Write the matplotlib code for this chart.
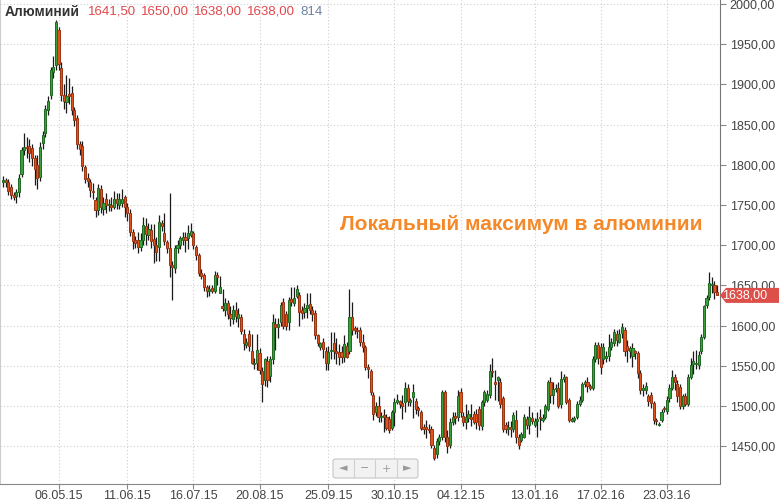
import numpy as np
import pandas as pd
import matplotlib
matplotlib.use("Agg")
import matplotlib.pyplot as plt
from matplotlib.patches import Polygon, FancyBboxPatch

# Daily OHLC for aluminium, one value per trading day
opens = [
    1779, 1781, 1779, 1772, 1763, 1761, 1766, 1788, 1818, 1822, 1824, 1821, 1808, 1800, 1785, 1827, 1840, 1868, 1887, 1915,
    1924, 1968, 1920, 1887, 1878, 1888, 1889, 1868, 1858, 1826, 1824, 1797, 1784, 1779, 1768, 1756, 1744, 1770, 1745, 1758,
    1750, 1750, 1748, 1758, 1750, 1752, 1760, 1748, 1740, 1717, 1706, 1706, 1698, 1707, 1724, 1713, 1719, 1708, 1700, 1698,
    1728, 1715, 1704, 1697, 1676, 1672, 1697, 1700, 1707, 1710, 1709, 1713, 1715, 1698, 1688, 1666, 1663, 1648, 1643, 1647,
    1643, 1663, 1641, 1625, 1620, 1628, 1615, 1608, 1620, 1610, 1611, 1590, 1576, 1590, 1568, 1552, 1554, 1566, 1543, 1533,
    1556, 1537, 1558, 1602, 1598, 1605, 1630, 1615, 1605, 1633, 1628, 1637, 1638, 1620, 1617, 1622, 1627, 1620, 1616, 1588,
    1574, 1580, 1568, 1554, 1568, 1579, 1568, 1567, 1567, 1561, 1575, 1568, 1611, 1597, 1595, 1595, 1580, 1573, 1549, 1543,
    1514, 1492, 1500, 1486, 1489, 1486, 1484, 1473, 1492, 1505, 1506, 1504, 1505, 1523, 1505, 1511, 1506, 1497, 1492, 1474,
    1474, 1472, 1471, 1448, 1440, 1456, 1461, 1517, 1461, 1452, 1480, 1488, 1486, 1517, 1488, 1480, 1485, 1487, 1490, 1490,
    1496, 1475, 1505, 1508, 1514, 1544, 1530, 1533, 1530, 1510, 1476, 1471, 1474, 1471, 1483, 1462, 1458, 1462, 1484, 1476,
    1485, 1476, 1481, 1487, 1483, 1486, 1496, 1530, 1514, 1521, 1523, 1502, 1534, 1536, 1508, 1482, 1483, 1486, 1502, 1508,
    1527, 1530, 1525, 1523, 1558, 1576, 1573, 1558, 1560, 1562, 1573, 1579, 1590, 1580, 1591, 1595, 1575, 1568, 1562, 1568,
    1566, 1541, 1520, 1520, 1512, 1514, 1504, 1483, 1476, 1483, 1498, 1494, 1510, 1523, 1536, 1528, 1524, 1500, 1512, 1502,
    1536, 1552, 1552, 1551, 1568, 1586, 1626, 1636, 1650, 1650, 1641.5,
]
highs = [
    1786, 1784, 1782, 1776, 1766, 1770, 1788, 1822, 1840, 1834, 1832, 1826, 1812, 1812, 1828, 1842, 1874, 1885, 1922, 1935,
    1980, 1972, 1928, 1900, 1912, 1908, 1898, 1872, 1862, 1830, 1830, 1800, 1790, 1783, 1778, 1760, 1776, 1775, 1760, 1765,
    1758, 1760, 1768, 1765, 1765, 1770, 1763, 1752, 1745, 1720, 1712, 1716, 1715, 1735, 1734, 1728, 1726, 1726, 1710, 1737,
    1732, 1740, 1706, 1765, 1680, 1700, 1706, 1712, 1716, 1716, 1725, 1728, 1718, 1700, 1690, 1670, 1666, 1650, 1650, 1650,
    1668, 1667, 1662, 1645, 1635, 1632, 1625, 1626, 1630, 1622, 1615, 1596, 1585, 1595, 1590, 1560, 1590, 1572, 1548, 1560,
    1562, 1562, 1614, 1610, 1610, 1630, 1634, 1618, 1636, 1648, 1648, 1650, 1642, 1625, 1628, 1640, 1640, 1624, 1620, 1590,
    1580, 1585, 1574, 1575, 1592, 1592, 1585, 1577, 1575, 1588, 1580, 1646, 1630, 1600, 1598, 1598, 1590, 1576, 1552, 1546,
    1517, 1505, 1512, 1492, 1496, 1490, 1488, 1495, 1510, 1515, 1508, 1514, 1530, 1528, 1510, 1528, 1510, 1500, 1495, 1478,
    1483, 1478, 1475, 1452, 1460, 1465, 1520, 1520, 1470, 1485, 1492, 1492, 1520, 1522, 1492, 1502, 1495, 1502, 1494, 1496,
    1500, 1508, 1520, 1520, 1552, 1560, 1545, 1538, 1535, 1512, 1480, 1482, 1482, 1492, 1495, 1465, 1468, 1490, 1488, 1500,
    1492, 1485, 1492, 1496, 1490, 1502, 1533, 1536, 1530, 1527, 1530, 1544, 1540, 1538, 1510, 1487, 1488, 1506, 1512, 1530,
    1533, 1536, 1528, 1562, 1580, 1580, 1578, 1578, 1568, 1590, 1585, 1596, 1594, 1596, 1603, 1598, 1582, 1575, 1578, 1570,
    1568, 1545, 1528, 1530, 1515, 1518, 1506, 1485, 1480, 1496, 1500, 1512, 1528, 1545, 1540, 1532, 1528, 1515, 1516, 1540,
    1560, 1568, 1570, 1568, 1590, 1626, 1638, 1667, 1660, 1656, 1650,
]
lows = [
    1773, 1772, 1762, 1758, 1756, 1752, 1760, 1785, 1812, 1808, 1804, 1798, 1775, 1770, 1780, 1820, 1835, 1862, 1882, 1908,
    1918, 1918, 1880, 1870, 1865, 1876, 1862, 1848, 1820, 1812, 1792, 1778, 1772, 1760, 1758, 1735, 1738, 1740, 1738, 1740,
    1742, 1742, 1745, 1745, 1745, 1748, 1735, 1730, 1712, 1695, 1697, 1690, 1693, 1700, 1700, 1706, 1696, 1678, 1680, 1680,
    1718, 1700, 1690, 1660, 1632, 1665, 1690, 1695, 1700, 1692, 1695, 1710, 1695, 1682, 1662, 1658, 1643, 1636, 1637, 1640,
    1640, 1650, 1640, 1618, 1612, 1608, 1600, 1602, 1605, 1598, 1590, 1570, 1572, 1568, 1552, 1546, 1545, 1540, 1505, 1525,
    1524, 1530, 1552, 1570, 1585, 1600, 1596, 1594, 1594, 1625, 1625, 1635, 1600, 1608, 1610, 1610, 1614, 1606, 1583, 1575,
    1570, 1560, 1545, 1545, 1558, 1558, 1552, 1551, 1553, 1555, 1560, 1565, 1588, 1590, 1585, 1575, 1567, 1545, 1535, 1514,
    1483, 1488, 1480, 1480, 1468, 1470, 1466, 1470, 1475, 1502, 1498, 1484, 1493, 1500, 1500, 1485, 1490, 1488, 1470, 1465,
    1460, 1466, 1448, 1433, 1436, 1452, 1458, 1455, 1442, 1448, 1476, 1478, 1482, 1486, 1475, 1472, 1480, 1475, 1478, 1472,
    1470, 1470, 1500, 1505, 1510, 1536, 1507, 1506, 1498, 1468, 1466, 1464, 1462, 1468, 1454, 1446, 1455, 1460, 1472, 1465,
    1478, 1474, 1462, 1470, 1480, 1484, 1494, 1504, 1503, 1518, 1498, 1498, 1530, 1502, 1480, 1480, 1480, 1484, 1500, 1505,
    1524, 1518, 1520, 1520, 1555, 1552, 1540, 1552, 1555, 1556, 1570, 1575, 1575, 1578, 1585, 1562, 1555, 1560, 1548, 1558,
    1535, 1515, 1512, 1515, 1500, 1498, 1478, 1477, 1475, 1480, 1492, 1490, 1505, 1520, 1520, 1505, 1496, 1496, 1500, 1500,
    1534, 1540, 1546, 1546, 1565, 1584, 1622, 1632, 1640, 1633, 1638,
]
closes = [
    1781, 1779, 1767, 1762, 1760, 1766, 1784, 1818, 1822, 1821, 1815, 1808, 1795, 1784, 1822, 1837, 1870, 1880, 1918, 1922,
    1978, 1925, 1887, 1880, 1886, 1885, 1868, 1856, 1826, 1820, 1798, 1783, 1780, 1769, 1766, 1744, 1771, 1748, 1752, 1750,
    1751, 1748, 1758, 1752, 1757, 1758, 1748, 1740, 1717, 1705, 1703, 1698, 1706, 1725, 1714, 1720, 1705, 1700, 1692, 1729,
    1724, 1705, 1697, 1676, 1673, 1697, 1700, 1709, 1710, 1707, 1715, 1718, 1700, 1688, 1666, 1662, 1648, 1643, 1646, 1643,
    1663, 1660, 1648, 1622, 1628, 1615, 1610, 1620, 1612, 1614, 1593, 1578, 1580, 1575, 1554, 1554, 1570, 1545, 1528, 1558,
    1533, 1558, 1605, 1598, 1602, 1626, 1599, 1600, 1632, 1630, 1634, 1645, 1617, 1616, 1622, 1626, 1620, 1614, 1589, 1579,
    1578, 1571, 1554, 1567, 1570, 1568, 1566, 1561, 1561, 1577, 1561, 1611, 1595, 1594, 1593, 1580, 1573, 1549, 1546, 1517,
    1490, 1500, 1486, 1488, 1487, 1473, 1470, 1492, 1505, 1507, 1503, 1500, 1523, 1506, 1507, 1517, 1496, 1495, 1473, 1472,
    1472, 1470, 1452, 1436, 1456, 1461, 1517, 1461, 1450, 1480, 1487, 1485, 1512, 1492, 1480, 1486, 1490, 1484, 1480, 1480,
    1477, 1505, 1517, 1515, 1543, 1542, 1528, 1536, 1502, 1471, 1471, 1474, 1471, 1489, 1461, 1452, 1465, 1487, 1476, 1487,
    1482, 1482, 1484, 1485, 1485, 1500, 1530, 1514, 1521, 1523, 1500, 1534, 1536, 1505, 1483, 1484, 1485, 1502, 1508, 1527,
    1530, 1525, 1523, 1558, 1576, 1560, 1549, 1574, 1562, 1574, 1580, 1592, 1582, 1590, 1598, 1568, 1570, 1572, 1572, 1566,
    1541, 1520, 1522, 1525, 1506, 1504, 1483, 1481, 1478, 1493, 1496, 1507, 1523, 1536, 1530, 1512, 1500, 1512, 1502, 1536,
    1551, 1556, 1554, 1564, 1586, 1624, 1635, 1653, 1652, 1642, 1638,
]

first_day = "2015-04-07"
tick_labels = ["06.05.15", "11.06.15", "16.07.15", "20.08.15", "25.09.15",
               "30.10.15", "04.12.15", "13.01.16", "17.02.16", "23.03.16"]
price_ticks = [1450, 1500, 1550, 1600, 1650, 1700, 1750, 1800, 1850, 1900, 1950, 2000]

header_name = "Алюминий"
header_values = ["1641,50", "1650,00", "1638,00", "1638,00"]
header_volume = "814"
note_text = "Локальный максимум в алюминии"

W, H = 779, 503
FONT = ["Liberation Sans", "DejaVu Sans"]


def px(x, y):
    # pixel coords (top-left origin) -> figure fraction
    return x / W, 1 - y / H


def fmt_price(v):
    return f"{v:.2f}".replace(".", ",")


def draw_candles(ax):
    o = np.array(opens, dtype=float)
    h = np.array(highs, dtype=float)
    l = np.array(lows, dtype=float)
    c = np.array(closes, dtype=float)
    idx = np.arange(len(c))
    up = c >= o

    ax.vlines(idx, l, h, color="#1b1b1b", linewidth=0.9, zorder=2)
    bottom = np.minimum(o, c)
    height = np.maximum(np.abs(c - o), 1.3)
    fills = np.where(up, "#3b9f3b", "#e0531f")
    edges = np.where(up, "#1f6a22", "#9a3413")
    ax.bar(idx, height, bottom=bottom, width=0.8, color=fills,
           edgecolor=edges, linewidth=0.7, zorder=3)
    return idx


def main():
    fig = plt.figure(figsize=(W / 100, H / 100), dpi=100)
    fig.patch.set_facecolor("white")
    ax = fig.add_axes([0, 19.5 / H, 720 / W, 483.5 / H])

    draw_candles(ax)
    dates = pd.bdate_range(first_day, periods=len(closes))

    ax.set_xlim(-1.13, 271.1)
    ax.set_ylim(1403.7, 2005)

    # date ticks
    tick_pos = [dates.get_loc(pd.to_datetime(t, format="%d.%m.%y")) for t in tick_labels]
    ax.set_xticks(tick_pos)
    ax.set_xticklabels(tick_labels, family=FONT)

    ax.yaxis.tick_right()
    ax.set_yticks(price_ticks)
    ax.set_yticklabels([fmt_price(v) for v in price_ticks], family=FONT)

    ax.tick_params(axis="both", colors="#888888", labelcolor="#444444",
                   labelsize=9, width=0.8)
    ax.tick_params(axis="x", length=3.5, pad=1)
    ax.tick_params(axis="y", length=4, pad=3)

    ax.grid(True, color="#cfcfcf", linestyle=(0, (1, 2)), linewidth=0.8)
    ax.set_axisbelow(True)

    ax.spines["top"].set_visible(False)
    ax.spines["right"].set_color("#777777")
    ax.spines["bottom"].set_color("#888888")
    ax.spines["left"].set_color("#cccccc")

    # header line
    fig.text(*px(5, 12), header_name, fontsize=10, fontweight="bold",
             color="#333333", va="center", family=FONT)
    xs = [88, 141, 194, 247]
    for x, s in zip(xs, header_values):
        fig.text(*px(x, 12), s, fontsize=9.5, color="#e0474c", va="center", family=FONT)
    fig.text(*px(300, 12), header_volume, fontsize=9.5, color="#6d80a3", va="center", family=FONT)

    # annotation
    fig.text(*px(521, 225), note_text, fontsize=15, fontweight="bold",
             color="#f5892a", ha="center", va="center", family=FONT)

    # last price marker
    last = closes[-1]
    yc = 4 + (2000 - last) * 0.805
    pts = [px(720, yc), px(726, yc - 7.5), px(779, yc - 7.5), px(779, yc + 7.5), px(726, yc + 7.5)]
    fig.patches.append(Polygon(pts, closed=True, transform=fig.transFigure,
                               facecolor="#dc5049", edgecolor="none", zorder=5))
    fig.text(*px(745, yc + 0.5), fmt_price(last), fontsize=9, color="white",
             ha="center", va="center", family=FONT, zorder=6)

    # navigation widget
    x0, y0 = px(333, 478)
    x1, y1 = px(418, 459)
    fig.patches.append(FancyBboxPatch((x0, y0), x1 - x0, y1 - y0,
                                      boxstyle="round,pad=0,rounding_size=0.004",
                                      transform=fig.transFigure,
                                      facecolor="#f2f2f2", edgecolor="#c6c6c6", linewidth=0.8))
    for sx in [354, 375, 397]:
        a, b = px(sx, 460)
        c, d = px(sx, 477)
        fig.lines.append(plt.Line2D([a, c], [b, d], transform=fig.transFigure,
                                    color="#cfcfcf", linewidth=0.8))
    for cx, g in zip([343.5, 364.5, 386, 407.5], ["◄", "−", "+", "►"]):
        fig.text(*px(cx, 468.5), g, fontsize=8, color="#9a9a9a",
                 ha="center", va="center", family=["DejaVu Sans"])

    fig.savefig("out.png", dpi=100)
    print("saved out.png")


if __name__ == "__main__":
    main()
